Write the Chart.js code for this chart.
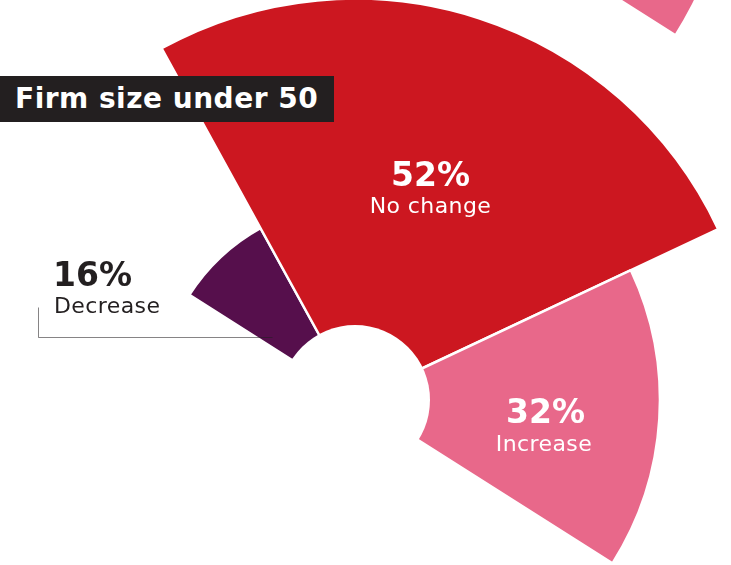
<!DOCTYPE html>
<html>
<head>
<meta charset="utf-8">
<script src="https://cdn.jsdelivr.net/npm/chart.js@4.4.1/dist/chart.umd.min.js"></script>
<style>
  html, body { margin: 0; padding: 0; background: #fff; }
  #stage { position: relative; width: 731px; height: 565px; overflow: hidden; background: #fff; }
  #stage canvas { position: absolute; }
  #upper { left: -79px; top: -602px; }
  #main { left: -79px; top: -34px; }
  #title {
    position: absolute; left: 0; top: 76px; width: 334px; height: 46px;
    background: #231F20; color: #fff; box-sizing: border-box; padding-left: 15px;
    font: bold 28px "DejaVu Sans", sans-serif; letter-spacing: 0.5px;
    line-height: 46px; white-space: nowrap; z-index: 2;
  }
</style>
</head>
<body>
<div id="stage">
  <canvas id="upper" width="868" height="868"></canvas>
  <canvas id="main" width="868" height="868"></canvas>
  <div id="title">Firm size under 50</div>
</div>
<script>
// Share of firms (size under 50) by expected change
const categories = ['Decrease', 'No change', 'Increase'];
const shares = [16, 52, 32];
const sliceColors = ['#560F4C', '#CC1720', '#E8688A'];

// Tail of the "Increase" slice from the panel above
const upperCategories = ['Increase'];
const upperShares = [47];
const upperColors = ['#E8688A'];

// Half-circle layout: slices sweep 180° in total, starting left of vertical
const START_ANGLE = -57.6;
const SWEEP = 180;
const SCALE_MIN = 4.7;
const SCALE_MAX = 60;
const RADIUS_EXPONENT = 0.5;   // square-root radius: wedge area follows the value
const HOLE_RATIO = 0.1728;

// Radial scale whose radius grows as a power of the value
class PowerRadialScale extends Chart.RadialLinearScale {
  static id = 'radialPower';
  getDistanceFromCenterForValue(value) {
    if (value === null || value === undefined || isNaN(value)) return NaN;
    const t = Math.max(0, (value - this.min) / (this.max - this.min));
    return this.drawingArea * Math.pow(t, RADIUS_EXPONENT);
  }
}
Chart.register(PowerRadialScale);

const holePlugin = {
  id: 'hole',
  afterDatasetsDraw(chart) {
    const s = chart.scales.r;
    const ctx = chart.ctx;
    ctx.save();
    ctx.fillStyle = '#fff';
    ctx.beginPath();
    ctx.arc(s.xCenter, s.yCenter, s.drawingArea * HOLE_RATIO, 0, Math.PI * 2);
    ctx.fill();
    ctx.restore();
  }
};

// Label offsets from the chart centre
const labelLayout = [
  { align: 'left',   value: [-302, -114], name: [-301, -87], color: '#231F20' },
  { align: 'center', value: [75.5, -214], name: [75.5, -187], color: '#ffffff' },
  { align: 'center', value: [190.5, 23],  name: [189, 51],   color: '#ffffff' }
];
const leaderLine = [[-317.5, -93], [-317.5, -63], [-83, -63]];

const labelPlugin = {
  id: 'sliceLabels',
  afterDraw(chart) {
    const s = chart.scales.r;
    const ctx = chart.ctx;
    const cx = s.xCenter, cy = s.yCenter;
    ctx.save();
    // leader for the small slice
    ctx.strokeStyle = 'rgba(35,31,32,0.55)';
    ctx.lineWidth = 1;
    ctx.beginPath();
    leaderLine.forEach(([dx, dy], k) => {
      const x = Math.round(cx + dx) + 0.5, y = Math.round(cy + dy) + 0.5;
      k ? ctx.lineTo(x, y) : ctx.moveTo(x, y);
    });
    ctx.stroke();
    ctx.textBaseline = 'alphabetic';
    labelLayout.forEach((l, i) => {
      ctx.fillStyle = l.color;
      ctx.textAlign = l.align;
      ctx.letterSpacing = '0px';
      ctx.font = 'bold 33px "DejaVu Sans", sans-serif';
      ctx.fillText(shares[i] + '%', cx + l.value[0], cy + l.value[1]);
      ctx.letterSpacing = '0.4px';
      ctx.font = '22px "DejaVu Sans", sans-serif';
      ctx.fillText(categories[i], cx + l.name[0], cy + l.name[1]);
    });
    ctx.restore();
  }
};

function polarConfig(labels, values, colors, startAngle, plugins) {
  const total = 100;
  return {
    type: 'polarArea',
    data: {
      labels,
      datasets: [{
        data: values,
        backgroundColor: colors,
        borderColor: '#ffffff',
        borderWidth: 2.5,
        angle: (c) => values[c.dataIndex] / total * SWEEP
      }]
    },
    options: {
      responsive: false,
      animation: false,
      events: [],
      layout: { padding: 0 },
      plugins: { legend: { display: false }, tooltip: { enabled: false } },
      scales: {
        r: {
          type: 'radialPower',
          display: false,
          min: SCALE_MIN,
          max: SCALE_MAX,
          startAngle
        }
      }
    },
    plugins
  };
}

new Chart(document.getElementById('upper'),
  polarConfig(upperCategories, upperShares, upperColors,
    START_ANGLE + SWEEP - upperShares[0] / 100 * SWEEP, []));

new Chart(document.getElementById('main'),
  polarConfig(categories, shares, sliceColors, START_ANGLE, [holePlugin, labelPlugin]));
</script>
</body>
</html>
